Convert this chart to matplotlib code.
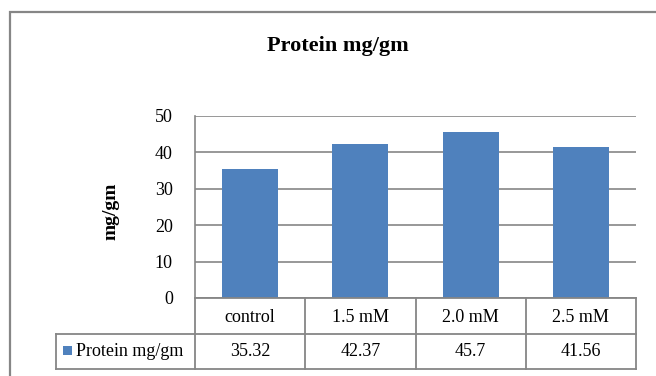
import matplotlib
matplotlib.use('Agg')
import matplotlib.pyplot as plt
from matplotlib.patches import Rectangle
from matplotlib.lines import Line2D
from matplotlib.transforms import blended_transform_factory

# data
categories = ["control", "1.5 mM", "2.0 mM", "2.5 mM"]
protein = [35.32, 42.37, 45.7, 41.56]
value_labels = ["35.32", "42.37", "45.7", "41.56"]
series_name = "Protein mg/gm"
yticks = [0, 10, 20, 30, 40, 50]

plt.rcParams['font.family'] = ['Liberation Serif', 'DejaVu Serif']

W, H = 656, 376
fig = plt.figure(figsize=(W / 100, H / 100), dpi=100)

def fx(px):
    return px / W

def fy(py):
    return 1 - py / H

grey = '#868686'
blue = '#4F81BD'
fs = 13

# outer chart frame (runs off the bottom/right edge)
fig.patches.append(Rectangle((fx(10), fy(400)), fx(700), fy(12) - fy(400),
                             transform=fig.transFigure, fill=False,
                             edgecolor=grey, linewidth=1.6, clip_on=False))

ax_left, ax_right, ax_top, ax_bot = 195, 636, 116, 298
ax = fig.add_axes([fx(ax_left), fy(ax_bot), fx(ax_right - ax_left), fy(ax_top) - fy(ax_bot)])
x = list(range(len(categories)))
ax.bar(x, protein, width=0.51, color=blue, zorder=3)
ax.set_xlim(-0.5, len(categories) - 0.5)
ax.set_ylim(0, 50)
ax.set_yticks(yticks)
ax.set_yticklabels([str(t) for t in yticks], fontsize=fs)
ax.tick_params(axis='y', length=0, pad=16)
ax.set_xticks([])
ax.yaxis.grid(True, color=grey, linewidth=1.2, zorder=0)
for s in ['top', 'right', 'bottom']:
    ax.spines[s].set_visible(False)
ax.spines['left'].set_color(grey)
ax.spines['left'].set_linewidth(1.2)

fig.text(fx(111), fy(211), "mg/gm", rotation=90, ha='center', va='center',
         fontsize=14, fontweight='bold')
fig.text(fx(338), fy(46), "Protein mg/gm", ha='center', va='center',
         fontsize=16, fontweight='bold')

# data table under the plot
tr = blended_transform_factory(ax.transData, fig.transFigure)
row1_top, row1_bot, row2_bot = fy(298), fy(334), fy(369)
lw = 1.3
lines = []
lines.append(Line2D([-0.5, len(categories) - 0.5], [row1_top, row1_top], transform=tr))
lines.append(Line2D([fx(56), fx(ax_right)], [row1_bot, row1_bot], transform=fig.transFigure))
lines.append(Line2D([fx(56), fx(ax_right)], [row2_bot, row2_bot], transform=fig.transFigure))
for i in range(len(categories) + 1):
    lines.append(Line2D([i - 0.5, i - 0.5], [row2_bot, row1_top], transform=tr))
lines.append(Line2D([fx(56), fx(56)], [row2_bot, row1_bot], transform=fig.transFigure))
for ln in lines:
    ln.set_color(grey)
    ln.set_linewidth(lw)
    ln.set_clip_on(False)
    fig.add_artist(ln)

for i, (c, v) in enumerate(zip(categories, value_labels)):
    fig.text(i, fy(317), c, transform=tr, ha='center', va='center', fontsize=fs)
    fig.text(i, fy(352), v, transform=tr, ha='center', va='center', fontsize=fs)

fig.patches.append(Rectangle((fx(63), fy(355)), fx(9), fy(346) - fy(355),
                             transform=fig.transFigure, facecolor=blue, edgecolor='none'))
fig.text(fx(76), fy(351), series_name, ha='left', va='center', fontsize=fs)

fig.savefig("out.png", dpi=100)
